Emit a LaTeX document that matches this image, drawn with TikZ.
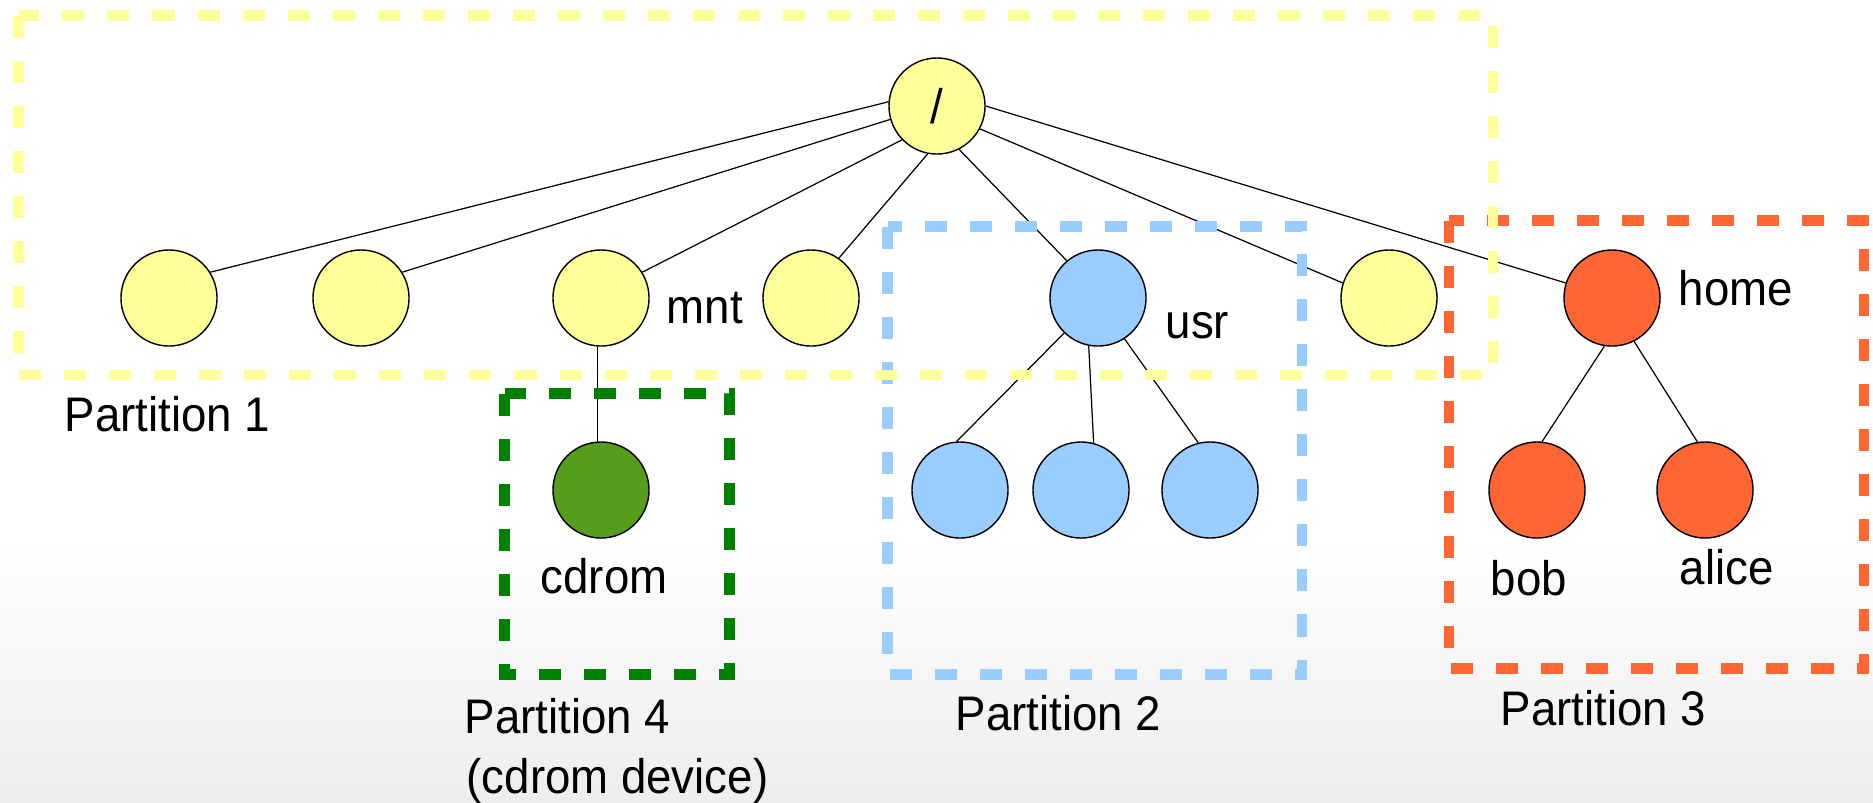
\documentclass[tikz,border=0pt]{standalone}
\usepackage{fontspec}
\setmainfont{Liberation Sans}[FakeStretch=0.94]
\usetikzlibrary{positioning,calc}
\definecolor{partyellow}{RGB}{255,255,153}
\definecolor{partblue}{RGB}{153,204,255}
\definecolor{partred}{RGB}{255,102,51}
\definecolor{partgreen}{RGB}{0,128,0}
\definecolor{cdgreen}{RGB}{87,157,28}

\begin{document}
\begin{tikzpicture}[x=0.01cm, y=-0.01cm,
    dirnode/.style={circle, draw=black, line width=0.4pt, minimum size=0.96cm, inner sep=0pt, font=\fontsize{13.8}{16}\selectfont},
    dirlabel/.style={anchor=base west, inner sep=0pt, font=\fontsize{13.8}{16}\selectfont},
    partbox/.style={line width=3pt, dash pattern=on 0.22cm off 0.23cm},
    tree/.style={line width=0.35pt}]
    \useasboundingbox (0,0) rectangle (1873,802);
    % background
    \fill[white] (0,0) rectangle (1873,802);
    \shade[top color=white, bottom color=black!7] (0,540) rectangle (1873,802);

    % directory tree
    \node[dirnode, fill=partyellow] (root) at (937,106) {/};
    \node[dirnode, fill=partyellow] (dirA) at (169,298) {};
    \node[dirnode, fill=partyellow] (dirB) at (361,298) {};
    \node[dirnode, fill=partyellow] (mnt) at (601,298) {};
    \node[dirnode, fill=partyellow] (dirC) at (811,298) {};
    \node[dirnode, fill=partblue] (usr) at (1098,298) {};
    \node[dirnode, fill=partyellow] (dirD) at (1389,298) {};
    \node[dirnode, fill=partred] (home) at (1612,298) {};
    \node[dirnode, fill=cdgreen] (cdrom) at (601,490) {};
    \node[dirnode, fill=partblue] (usrA) at (960,490) {};
    \node[dirnode, fill=partblue] (usrB) at (1081,490) {};
    \node[dirnode, fill=partblue] (usrC) at (1210,490) {};
    \node[dirnode, fill=partred] (bob) at (1537,490) {};
    \node[dirnode, fill=partred] (alice) at (1705,490) {};

    \foreach \a/\d/\b in {175/dirA/32, 196/dirB/32, 224/mnt/32, 259/dirC/55,
                          297/usr/130, 332/dirD/162, 0/home/162}
        \draw[tree] (root.\a) -- (\d.\b);
    \draw[tree] (mnt.266) -- (cdrom.94);
    \foreach \a/\d/\b in {226/usrA/94, 259/usrB/75, 303/usrC/104}
        \draw[tree] (usr.\a) -- (\d.\b);
    \draw[tree] (home.261) -- (bob.84);
    \draw[tree] (home.297) -- (alice.99);

    % names
    \node[dirlabel] (mntname) at (666,323) {mnt};
    \node[dirlabel] (usrname) at (1165,338) {usr};
    \node[dirlabel] (homename) at (1678,305) {home};
    \node[dirlabel] (cdromname) at (540,593) {cdrom};
    \node[dirlabel] (bobname) at (1490,595) {bob};
    \node[dirlabel] (alicename) at (1679,584) {alice};

    % partitions
    \draw[partbox, draw=partblue] (887.5,226.5) rectangle (1302,674.5);
    \draw[partbox, draw=partred] (1449,220.5) rectangle (1864,668.5);
    \draw[partbox, draw=partgreen] (504.5,393.5) rectangle (729.5,674.5);
    \draw[partbox, draw=partyellow] (18.5,15.5) rectangle (1493,375);
    \node[dirlabel] (part1) at (64,431) {Partition 1};
    \node[dirlabel] (part4) at (464,733) {Partition 4};
    \node[dirlabel] (part4dev) at (466,793) {(cdrom device)};
    \node[dirlabel] (part2) at (955,730) {Partition 2};
    \node[dirlabel] (part3) at (1500,725) {Partition 3};
\end{tikzpicture}
\end{document}
